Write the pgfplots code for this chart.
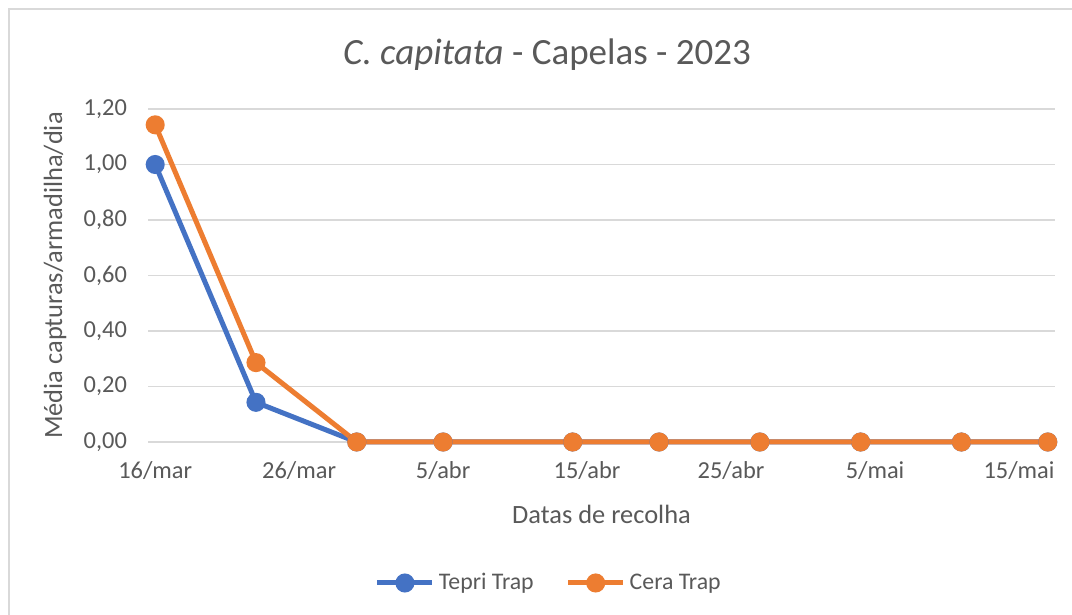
\documentclass[border=0pt]{standalone}
\usepackage{pgfplots}
\pgfplotsset{compat=1.18}
\usepackage{fontspec}
\setmainfont{Carlito}
\definecolor{tblue}{HTML}{4472C4}
\definecolor{torange}{HTML}{ED7D31}
\definecolor{tgrid}{HTML}{D9D9D9}
\definecolor{ttext}{HTML}{595959}
\begin{document}
\begin{tikzpicture}
\useasboundingbox (0,0) rectangle (536pt,307.5pt);
\fill[white] (0,0) rectangle (536pt,307.5pt);
\draw[tgrid, line width=1pt] (4.5pt,0) -- (4.5pt,302.75pt) -- (536pt,302.75pt);
\begin{axis}[
  at={(74pt,86.5pt)}, anchor=south west,
  scale only axis, width=453.5pt, height=166.5pt,
  xmin=-0.5, xmax=62.5, ymin=0, ymax=1.2,
  xtick={0,10,20,30,40,50,60},
  xticklabels={16/mar,26/mar,5/abr,15/abr,25/abr,5/mai,15/mai},
  ytick={0,0.2,0.4,0.6,0.8,1.0,1.2},
  /pgf/number format/.cd, fixed, fixed zerofill, precision=2, use comma, assume math mode=true,
  /pgfplots/.cd,
  axis line style={draw=none},
  major tick length=0pt,
  ymajorgrids, grid style={tgrid, line width=0.75pt},
  tick label style={font=\fontsize{12.2}{14}\selectfont, text=ttext},
  xticklabel style={yshift=-6pt},
  yticklabel style={xshift=-7pt},
  title={\textit{C. capitata} - Capelas - 2023},
  title style={font=\fontsize{18.5}{22}\selectfont, text=ttext, at={(axis description cs:0.44,1)}, anchor=center, yshift=21pt},
  xlabel={Datas de recolha},
  xlabel style={font=\fontsize{13.2}{16}\selectfont, text=ttext, at={(axis description cs:0.5,0)}, anchor=center, yshift=-36pt},
  ylabel={Média capturas/armadilha/dia},
  ylabel style={font=\fontsize{13.2}{16}\selectfont, text=ttext, at={(axis description cs:-0.1025,0.5)}, anchor=center},
  clip=false,
  legend columns=2,
  legend style={draw=none, fill=none, at={(axis description cs:0.443,-0.4234)}, anchor=center,
    font=\fontsize{11.9}{14}\selectfont, text=ttext, /tikz/every even column/.append style={column sep=14pt}},
  legend image code/.code={
    \draw[#1, mark=none] (0pt,0pt) -- (27.5pt,0pt);
    \draw[#1, only marks] plot coordinates {(13.75pt,0pt)};
  },
]
\addplot[tblue, line width=2.5pt, mark=*, mark size=3.5pt, mark options={solid}] coordinates {
(0,1.000) (7,0.143) (14,0) (20,0) (29,0) (35,0) (42,0) (49,0) (56,0) (62,0)};
\addlegendentry{Tepri Trap}
\addplot[torange, line width=2.5pt, mark=*, mark size=3.5pt, mark options={solid}] coordinates {
(0,1.143) (7,0.286) (14,0) (20,0) (29,0) (35,0) (42,0) (49,0) (56,0) (62,0)};
\addlegendentry{Cera Trap}
\end{axis}
\end{tikzpicture}
\end{document}
